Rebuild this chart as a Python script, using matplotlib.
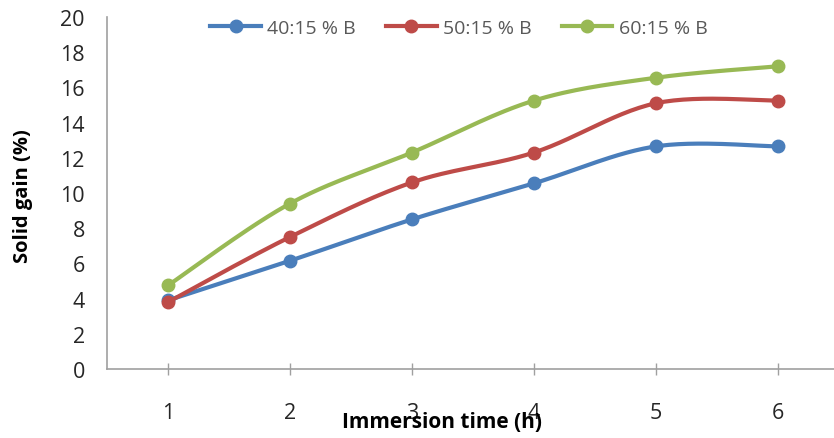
import numpy as np
import matplotlib
matplotlib.use("Agg")
import matplotlib.pyplot as plt

# data
hours = [1, 2, 3, 4, 5, 6]
gain_40 = [3.9, 6.15, 8.5, 10.55, 12.65, 12.65]
gain_50 = [3.8, 7.5, 10.6, 12.3, 15.1, 15.25]
gain_60 = [4.75, 9.4, 12.3, 15.25, 16.55, 17.2]
labels = ["40:15 % B", "50:15 % B", "60:15 % B"]
colors = ["#4a7ebb", "#be4b48", "#98b954"]


# smoothed line like Excel's "smoothed line" option (Catmull-Rom bezier)
def smooth(x, y, n=30):
    x = np.asarray(x, float)
    y = np.asarray(y, float)
    px = np.concatenate([[x[0]], x, [x[-1]]])
    py = np.concatenate([[y[0]], y, [y[-1]]])
    t = np.linspace(0, 1, n)
    xs, ys = [], []
    for i in range(1, len(px) - 2):
        p0 = np.array([px[i], py[i]])
        p3 = np.array([px[i + 1], py[i + 1]])
        c1 = p0 + (p3 - np.array([px[i - 1], py[i - 1]])) / 6
        c2 = p3 - (np.array([px[i + 2], py[i + 2]]) - p0) / 6
        b = ((1 - t) ** 3)[:, None] * p0 + (3 * (1 - t) ** 2 * t)[:, None] * c1 \
            + (3 * (1 - t) * t ** 2)[:, None] * c2 + (t ** 3)[:, None] * p3
        xs.append(b[:, 0])
        ys.append(b[:, 1])
    return np.concatenate(xs), np.concatenate(ys)


plt.rcParams["font.family"] = ["Open Sans", "DejaVu Sans"]

fig = plt.figure(figsize=(8.34, 4.39), dpi=100)
ax = fig.add_axes([107 / 834, 69 / 439, 1 - 107 / 834, (370 - 18) / 439])

for ys, lab, c in zip([gain_40, gain_50, gain_60], labels, colors):
    sx, sy = smooth(hours, ys)
    ax.plot(sx, sy, color=c, lw=3, solid_capstyle="round")
    ax.plot(hours, ys, "o", color=c, ms=9)
    ax.plot([], [], color=c, lw=3, marker="o", ms=9, label=lab)

ax.set_xlim(0.5, 6.46)
ax.set_ylim(0, 20)
ax.set_yticks(range(0, 21, 2))
ax.set_xticks(hours)

for s in ["top", "right"]:
    ax.spines[s].set_visible(False)
for s in ["left", "bottom"]:
    ax.spines[s].set_color("#a0a0a0")
    ax.spines[s].set_linewidth(1.2)

ax.tick_params(axis="y", length=0, pad=16, labelsize=15.5, labelcolor="#262626")
ax.tick_params(axis="x", direction="inout", length=9, width=1, color="#a0a0a0",
               pad=19, labelsize=15.5, labelcolor="#262626")

fig.text(442 / 834, 1 - 423 / 439, "Immersion time (h)", ha="center", va="center",
         fontsize=15, fontweight="bold")
fig.text(23 / 834, 1 - 196 / 439, "Solid gain (%)", ha="center", va="center",
         rotation=90, fontsize=14.5, fontweight="bold")

leg = ax.legend(loc="center", bbox_to_anchor=(459 / 834, 1 - 29 / 439),
                bbox_transform=fig.transFigure, ncol=3, frameon=False,
                fontsize=14, handlelength=2.6, columnspacing=1.55, handletextpad=0.33)
for t in leg.get_texts():
    t.set_color("#595959")

fig.savefig("out.png", dpi=100)
